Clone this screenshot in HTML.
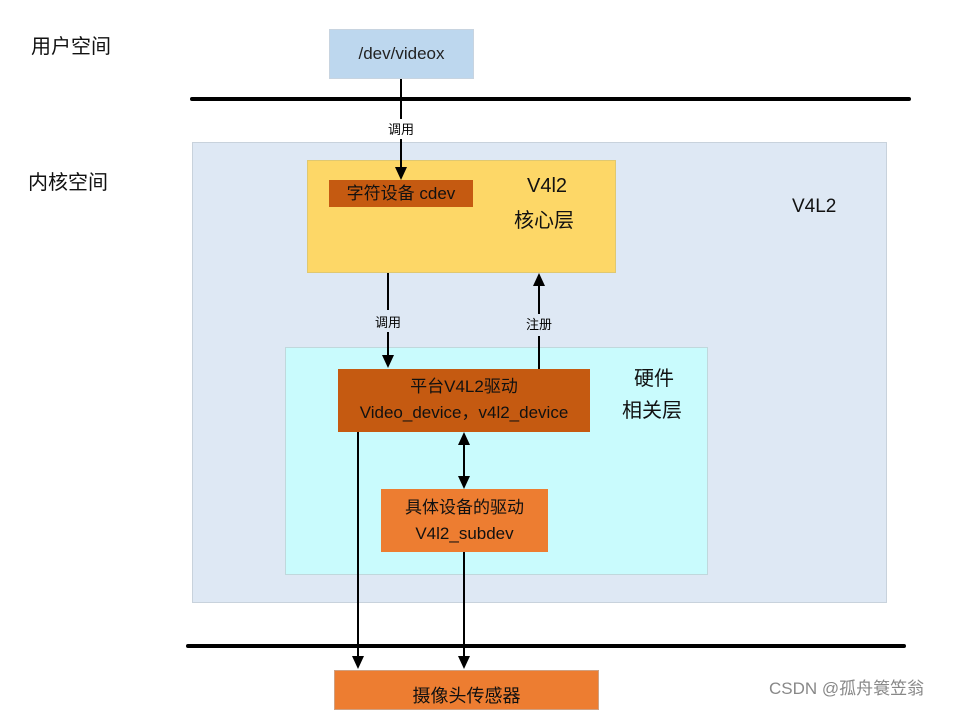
<!DOCTYPE html>
<html><head><meta charset="utf-8"><style>
body{margin:0;width:955px;height:704px;background:#fff;position:relative;overflow:hidden;font-family:"Liberation Sans","Noto Sans CJK SC",sans-serif;}
.a{position:absolute;box-sizing:border-box;}
.t{position:absolute;white-space:nowrap;}
</style></head><body>
<div class="t" style="left:31px;top:30px;font-size:20px;color:#111">用户空间</div>
<div class="t" style="left:28px;top:166px;font-size:20px;color:#111">内核空间</div>
<div class="a" style="left:329px;top:29px;width:145px;height:50px;background:#bdd7ee;border:1px solid #c8d4e0;font-size:17px;text-align:center;line-height:48px;color:#222">/dev/videox</div>
<div class="a" style="left:190px;top:97px;width:721px;height:4px;background:#000;border-radius:2px"></div>
<div class="a" style="left:192px;top:142px;width:695px;height:461px;background:#dee8f4;border:1px solid #c8d2dc"></div>
<div class="t" style="left:792px;top:196px;font-size:19px;color:#111">V4L2</div>
<div class="a" style="left:307px;top:160px;width:309px;height:113px;background:#fdd767;border:1px solid #e0c870"></div>
<div class="a" style="left:329px;top:180px;width:144px;height:27px;background:#c55a11;font-size:17px;text-align:center;line-height:27px;color:#111">字符设备 cdev</div>
<div class="t" style="left:527px;top:175px;font-size:20px;color:#111">V4l2</div>
<div class="t" style="left:514px;top:204px;font-size:20px;color:#111">核心层</div>
<div class="a" style="left:285px;top:347px;width:423px;height:228px;background:#c9fbfd;border:1px solid #c0d8dc"></div>
<div class="t" style="left:634px;top:362px;font-size:20px;color:#111">硬件</div>
<div class="t" style="left:622px;top:394px;font-size:20px;color:#111">相关层</div>
<div class="a" style="left:338px;top:369px;width:252px;height:63px;background:#c55a11;font-size:17px;text-align:center;line-height:26px;color:#111;padding-top:5px">平台V4L2驱动<br>Video_device，v4l2_device</div>
<div class="a" style="left:381px;top:489px;width:167px;height:63px;background:#ed7d31;font-size:17px;text-align:center;line-height:26px;color:#111;padding-top:6px">具体设备的驱动<br>V4l2_subdev</div>
<div class="a" style="left:186px;top:644px;width:720px;height:4px;background:#000;border-radius:2px"></div>
<div class="a" style="left:334px;top:670px;width:265px;height:40px;background:#ed7d31;border:1px solid #d0a080;font-size:18px;text-align:center;line-height:50px;color:#111">摄像头传感器</div>
<div class="t" style="left:769px;top:674px;font-size:17px;color:#888">CSDN @孤舟簑笠翁</div>
<svg class="a" style="left:0;top:0" width="955" height="704">
<g stroke="#000" stroke-width="2" fill="none">
<line x1="401" y1="79" x2="401" y2="119"/><line x1="401" y1="139" x2="401" y2="168"/>
<line x1="388" y1="273" x2="388" y2="310"/><line x1="388" y1="332" x2="388" y2="356"/>
<line x1="539" y1="369" x2="539" y2="336"/><line x1="539" y1="314" x2="539" y2="285"/>
<line x1="464" y1="444" x2="464" y2="477"/>
<line x1="358" y1="432" x2="358" y2="656"/><line x1="464" y1="552" x2="464" y2="656"/>
</g>
<g fill="#000">
<polygon points="395,167 407,167 401,180"/>
<polygon points="382,355 394,355 388,368"/>
<polygon points="533,286 545,286 539,273"/>
<polygon points="458,445 470,445 464,432"/>
<polygon points="458,476 470,476 464,489"/>
<polygon points="352,656 364,656 358,669"/>
<polygon points="458,656 470,656 464,669"/>
</g>
<text x="401" y="134" font-size="13" text-anchor="middle" font-family="Liberation Sans,Noto Sans CJK SC,sans-serif">调用</text>
<text x="388" y="327" font-size="13" text-anchor="middle" font-family="Liberation Sans,Noto Sans CJK SC,sans-serif">调用</text>
<text x="539" y="329" font-size="13" text-anchor="middle" font-family="Liberation Sans,Noto Sans CJK SC,sans-serif">注册</text>
</svg>
</body></html>
